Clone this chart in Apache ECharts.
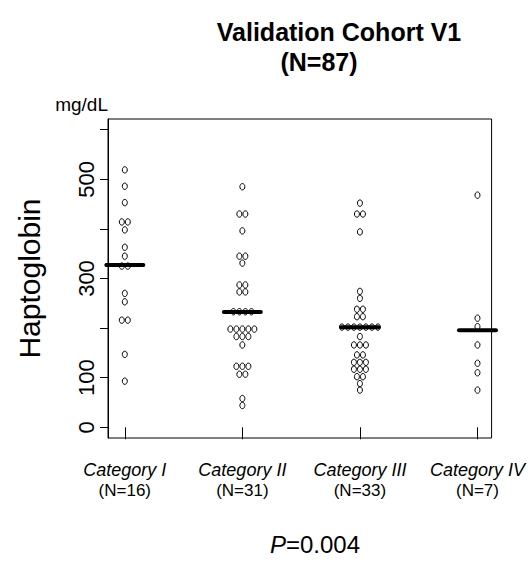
<!DOCTYPE html>
<html><head><meta charset="utf-8">
<script src="https://cdn.jsdelivr.net/npm/echarts@6/dist/echarts.min.js"></script>
<style>html,body{margin:0;padding:0;background:#fff}#c{width:528px;height:581px}</style>
</head><body><div id="c"></div>
<script>
const categories = ['Category I', 'Category II', 'Category III', 'Category IV'];
const catI = [519, 486, 453, 414, 414, 398, 363, 345, 325, 325, 270, 253, 216, 216, 147, 93];
const catII = [485, 430, 430, 396, 345, 345, 331, 287, 287, 273, 273, 233, 233, 233, 233,
  198, 198, 198, 198, 198, 183, 183, 183, 166, 123, 123, 123, 107, 107, 58, 44];
const catIII = [452, 430, 430, 394, 274, 260, 238, 238, 223, 223,
  202, 202, 202, 202, 202, 202, 202, 183, 166, 166, 166, 146, 146,
  131, 131, 131, 117, 117, 117, 102, 102, 88, 75];
const catIV = [468, 220, 203, 166, 129, 110, 75];
const yTicks = [0, 100, 200, 300, 400, 500, 600];
const yLabels = [0, 100, 300, 500];
const titleText = 'Validation Cohort V1';
const pValue = '0.004';

const groups = [catI, catII, catIII, catIV];
const total = groups.reduce((s, g) => s + g.length, 0);

// simple centered beeswarm: equal values share a row, spread horizontally
const points = [];
groups.forEach((g, gi) => {
  const counts = {}, seen = {};
  g.forEach(v => { counts[v] = (counts[v] || 0) + 1; });
  g.forEach(v => {
    const k = seen[v] || 0; seen[v] = k + 1;
    points.push([gi + 1, v, k - (counts[v] - 1) / 2]);
  });
});
const means = groups.map((g, gi) => [gi + 1, g.reduce((a, b) => a + b, 0) / g.length]);

const chart = echarts.init(document.getElementById('c'), null, {renderer: 'svg'});
const F = '"Liberation Sans", Arial, Helvetica, sans-serif';
const titleStyle = {fontFamily: F, fontWeight: 'bold', fontSize: 25, color: '#000'};
chart.setOption({
  animation: false,
  backgroundColor: '#fff',
  textStyle: {fontFamily: F, color: '#000'},
  title: [{
    text: titleText, left: 334, top: 14, textAlign: 'center', textStyle: titleStyle
  }, {
    text: '(N=' + total + ')', left: 314, top: 44, textAlign: 'center', textStyle: titleStyle
  }, {
    text: '{i|P}=' + pValue,
    left: 310, top: 527, textAlign: 'center',
    textStyle: {fontFamily: F, fontSize: 24, color: '#000', fontWeight: 'normal',
      rich: {i: {fontFamily: F, fontSize: 24, fontStyle: 'italic', color: '#000'}}}
  }],
  graphic: [{
    type: 'text', right: 528 - 108, top: 95,
    style: {text: 'mg/dL', font: '19px ' + F, fill: '#000'}
  }],
  grid: {left: 108, top: 119, width: 402, height: 319, show: true, borderColor: '#000', borderWidth: 1, containLabel: false},
  xAxis: {
    type: 'value', min: 0.857, max: 4.12,
    splitLine: {show: false},
    axisLine: {show: false},
    axisTick: {show: true, customValues: [1, 2, 3, 4], length: 12, lineStyle: {color: '#000', width: 1}},
    axisLabel: {
      customValues: [1, 2, 3, 4], margin: 21,
      formatter: v => '{a|' + categories[v - 1] + '}\n{b|(N=' + groups[v - 1].length + ')}',
      rich: {
        a: {fontFamily: F, fontSize: 18, fontStyle: 'italic', lineHeight: 21, color: '#000'},
        b: {fontFamily: F, fontSize: 17, lineHeight: 21, color: '#000'}
      }
    }
  },
  yAxis: {
    type: 'value', min: -21.6, max: 621.6,
    name: 'Haptoglobin', nameLocation: 'middle', nameRotate: 90, nameGap: 64,
    nameTextStyle: {fontFamily: F, fontSize: 30, color: '#000'},
    splitLine: {show: false},
    axisLine: {show: true, lineStyle: {color: '#000', width: 1}},
    axisTick: {show: true, customValues: yTicks, length: 8, lineStyle: {color: '#000', width: 1}},
    axisLabel: {customValues: yLabels, rotate: 90, margin: 11, fontSize: 22, fontFamily: F, color: '#000'}
  },
  series: [{
    type: 'custom',
    data: points,
    clip: false,
    renderItem: (params, api) => {
      const c = api.coord([api.value(0), api.value(1)]);
      return {
        type: 'ellipse',
        shape: {cx: c[0] + api.value(2) * 6, cy: c[1], rx: 2.5, ry: 3.2},
        style: {fill: 'none', stroke: '#000', lineWidth: 1}
      };
    }
  }, {
    type: 'custom',
    data: means,
    renderItem: (params, api) => {
      const c = api.coord([api.value(0), api.value(1)]);
      return {
        type: 'line',
        shape: {x1: c[0] - 18.5, y1: c[1], x2: c[0] + 18.5, y2: c[1]},
        style: {stroke: '#000', lineWidth: 4, lineCap: 'round'}
      };
    }
  }]
});
</script>
</body></html>
